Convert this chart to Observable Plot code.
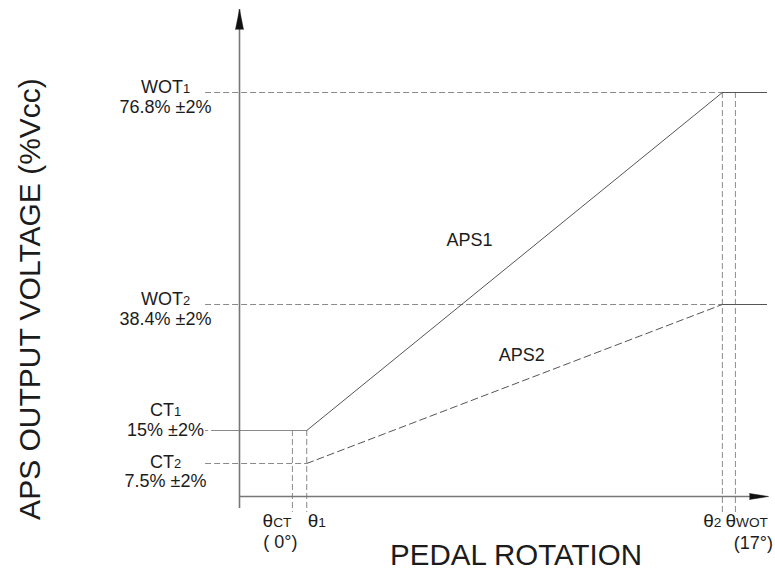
<!DOCTYPE html>
<html><head><meta charset="utf-8">
<script src="https://cdn.jsdelivr.net/npm/d3@7"></script>
<script src="https://cdn.jsdelivr.net/npm/@observablehq/plot@0.6"></script>
<style>body{margin:0;background:#fff} svg{display:block}</style>
</head><body><div id="chart"></div>
<script>
// pedal angles (degrees)
const thetaNames = ["θ_CT", "θ_1", "θ_2", "θ_WOT"];
const thetaValues = [0, 0.55, 16.5, 17];
const thetaNotes = ["( 0°)", "", "", "(17°)"];
// output voltage levels (%Vcc)
const levelNames = ["WOT_1", "WOT_2", "CT_1", "CT_2"];
const levelValues = [76.8, 38.4, 15, 7.5];
const levelTolerance = 2;
// sensor series: output at θ1 and at θ2
const seriesNames = ["APS1", "APS2"];
const seriesStart = [15, 7.5];
const seriesEnd = [76.8, 38.4];
// axis extents
const axisMinX = -2.03, axisMaxX = 18.27;
const axisMaxY = 100;

const W = 775, H = 577;
const levels = levelNames.map((name, i) => ({name, value: levelValues[i], label: `${levelValues[i]}% ±${levelTolerance}%`}));
const thetas = thetaNames.map((name, i) => ({name, value: thetaValues[i], note: thetaNotes[i]}));
const [thCT, th1, th2, thWOT] = thetaValues;
const lines = seriesNames.map((s, i) => [{s, x: th1, y: seriesStart[i]}, {s, x: th2, y: seriesEnd[i]}]);
const leaderStart = -3.33;

const axisColor = "#777", lineColor = "#555", dashColor = "#8a8a8a", textColor = "#1c1c1c";
const dash = "6,3";
const lbl = {frameAnchor: "left", dx: 165, textAnchor: "middle", fontSize: 18, fill: textColor};

const plot = Plot.plot({
  width: W, height: H,
  marginLeft: 0, marginRight: 0, marginTop: 0, marginBottom: 0,
  style: {fontFamily: "'Liberation Sans', Arial, sans-serif", color: textColor, background: "#fff"},
  x: {type: "linear", domain: [axisMinX, axisMaxX], range: [239, 768], axis: null},
  y: {type: "linear", domain: [0, 7.5, 15, 38.4, 76.8, axisMaxY], range: [496, 463, 430, 304, 92, 9], axis: null},
  marks: [
    // leader lines from level labels
    Plot.ruleY(levels.filter(d => d.name.startsWith("WOT")), {y: "value", x1: leaderStart, x2: th2, stroke: dashColor, strokeDasharray: dash}),
    Plot.ruleY(levels.filter(d => d.name === "CT_2"), {y: "value", x1: leaderStart, x2: th1, stroke: dashColor, strokeDasharray: dash}),
    Plot.ruleY(levels.filter(d => d.name === "CT_1"), {y: "value", x1: leaderStart, x2: th1, stroke: dashColor, strokeDasharray: "3,3,2000"}),
    Plot.ruleY(levels.filter(d => d.name === "CT_1"), {y: "value", x1: leaderStart + 0.3, x2: th1, stroke: dashColor}),
    // angle markers
    Plot.ruleX(thetas.slice(0, 2), {x: "value", y1: levelValues[2], y2: 0, insetBottom: -16, stroke: dashColor, strokeDasharray: dash}),
    Plot.ruleX(thetas.slice(2), {x: "value", y1: levelValues[0], y2: 0, insetBottom: -16, stroke: dashColor, strokeDasharray: dash}),
    // series
    Plot.line(lines[0], {x: "x", y: "y", stroke: lineColor, strokeWidth: 1}),
    Plot.line(lines[1], {x: "x", y: "y", stroke: lineColor, strokeWidth: 1, strokeDasharray: "7,4"}),
    Plot.ruleY(seriesEnd, {y: d => d, x1: th2, x2: axisMaxX, insetRight: 1, stroke: lineColor, strokeWidth: 1}),
    // axes
    Plot.ruleX([axisMinX], {y1: 0, y2: axisMaxY, insetTop: 12, stroke: axisColor, strokeWidth: 1.6}),
    Plot.ruleY([0], {x1: axisMinX, x2: axisMaxX, insetRight: 12, stroke: axisColor, strokeWidth: 1.6}),
    Plot.vector([{x: axisMinX, y: axisMaxY}], {x: "x", y: "y", shape: "spike", length: 20, r: 4, rotate: 0, anchor: "end", fill: "#111", stroke: "#111", strokeWidth: 0.5}),
    Plot.vector([{x: axisMaxX, y: 0}], {x: "x", y: "y", shape: "spike", length: 19, r: 3, rotate: 90, anchor: "end", fill: "#111", stroke: "#111", strokeWidth: 0.5}),
    // level labels
    Plot.text(levels.filter(d => d.name.startsWith("WOT")), {...lbl, y: "value", text: "name", dy: -5}),
    Plot.text(levels.filter(d => d.name.startsWith("WOT")), {...lbl, y: "value", text: "label", dy: 15}),
    Plot.text(levels.filter(d => d.name === "CT_1"), {...lbl, y: "value", text: "name", dy: -20}),
    Plot.text(levels.filter(d => d.name === "CT_1"), {...lbl, y: "value", text: "label", dy: 0}),
    Plot.text(levels.filter(d => d.name === "CT_2"), {...lbl, y: "value", text: "name", dy: -1}),
    Plot.text(levels.filter(d => d.name === "CT_2"), {...lbl, y: "value", text: "label", dy: 18}),
    // angle labels
    Plot.text([thetas[0]], {x: "value", y: () => 0, text: "name", textAnchor: "end", dx: -1, dy: 24, fontSize: 19, fill: textColor}),
    Plot.text([thetas[1]], {x: "value", y: () => 0, text: "name", textAnchor: "start", dx: 1, dy: 24, fontSize: 19, fill: textColor}),
    Plot.text([thetas[2]], {x: "value", y: () => 0, text: "name", textAnchor: "end", dx: -1, dy: 24, fontSize: 19, fill: textColor}),
    Plot.text([thetas[3]], {x: "value", y: () => 0, text: "name", textAnchor: "start", dx: -10, dy: 24, fontSize: 19, fill: textColor}),
    Plot.text([thetas[0]], {x: "value", y: () => 0, text: "note", textAnchor: "middle", dx: -12, dy: 46, fontSize: 18, fill: textColor}),
    Plot.text([thetas[3]], {x: "value", y: () => 0, text: "note", textAnchor: "middle", dx: 18, dy: 47, fontSize: 18, fill: textColor}),
    // series labels
    Plot.text([seriesNames[0]], {x: () => 6.8, y: () => 50, text: d => d, fontSize: 18, fill: textColor}),
    Plot.text([seriesNames[1]], {x: () => 8.8, y: () => 29, text: d => d, fontSize: 18, fill: textColor}),
    // axis titles
    Plot.text(["APS OUTPUT VOLTAGE (%Vcc)"], {frameAnchor: "left", dx: 30, dy: 10, rotate: -90, textAnchor: "middle", lineAnchor: "middle", text: d => d, fontSize: 30, fill: textColor}),
    Plot.text(["PEDAL ROTATION"], {frameAnchor: "bottom", dx: 128, dy: -22, textAnchor: "middle", lineAnchor: "middle", text: d => d, fontSize: 29.5, fill: textColor})
  ]
});

// render "_" as a smaller subscript
d3.select(plot).selectAll("text").each(function() {
  const t = this.textContent;
  if (!t.includes("_")) return;
  const [a, b] = t.split("_");
  const sel = d3.select(this);
  sel.text("");
  sel.append("tspan").text(a);
  sel.append("tspan").attr("font-size", "0.72em").text(b);
});

document.getElementById("chart").append(plot);
</script>
</body></html>
